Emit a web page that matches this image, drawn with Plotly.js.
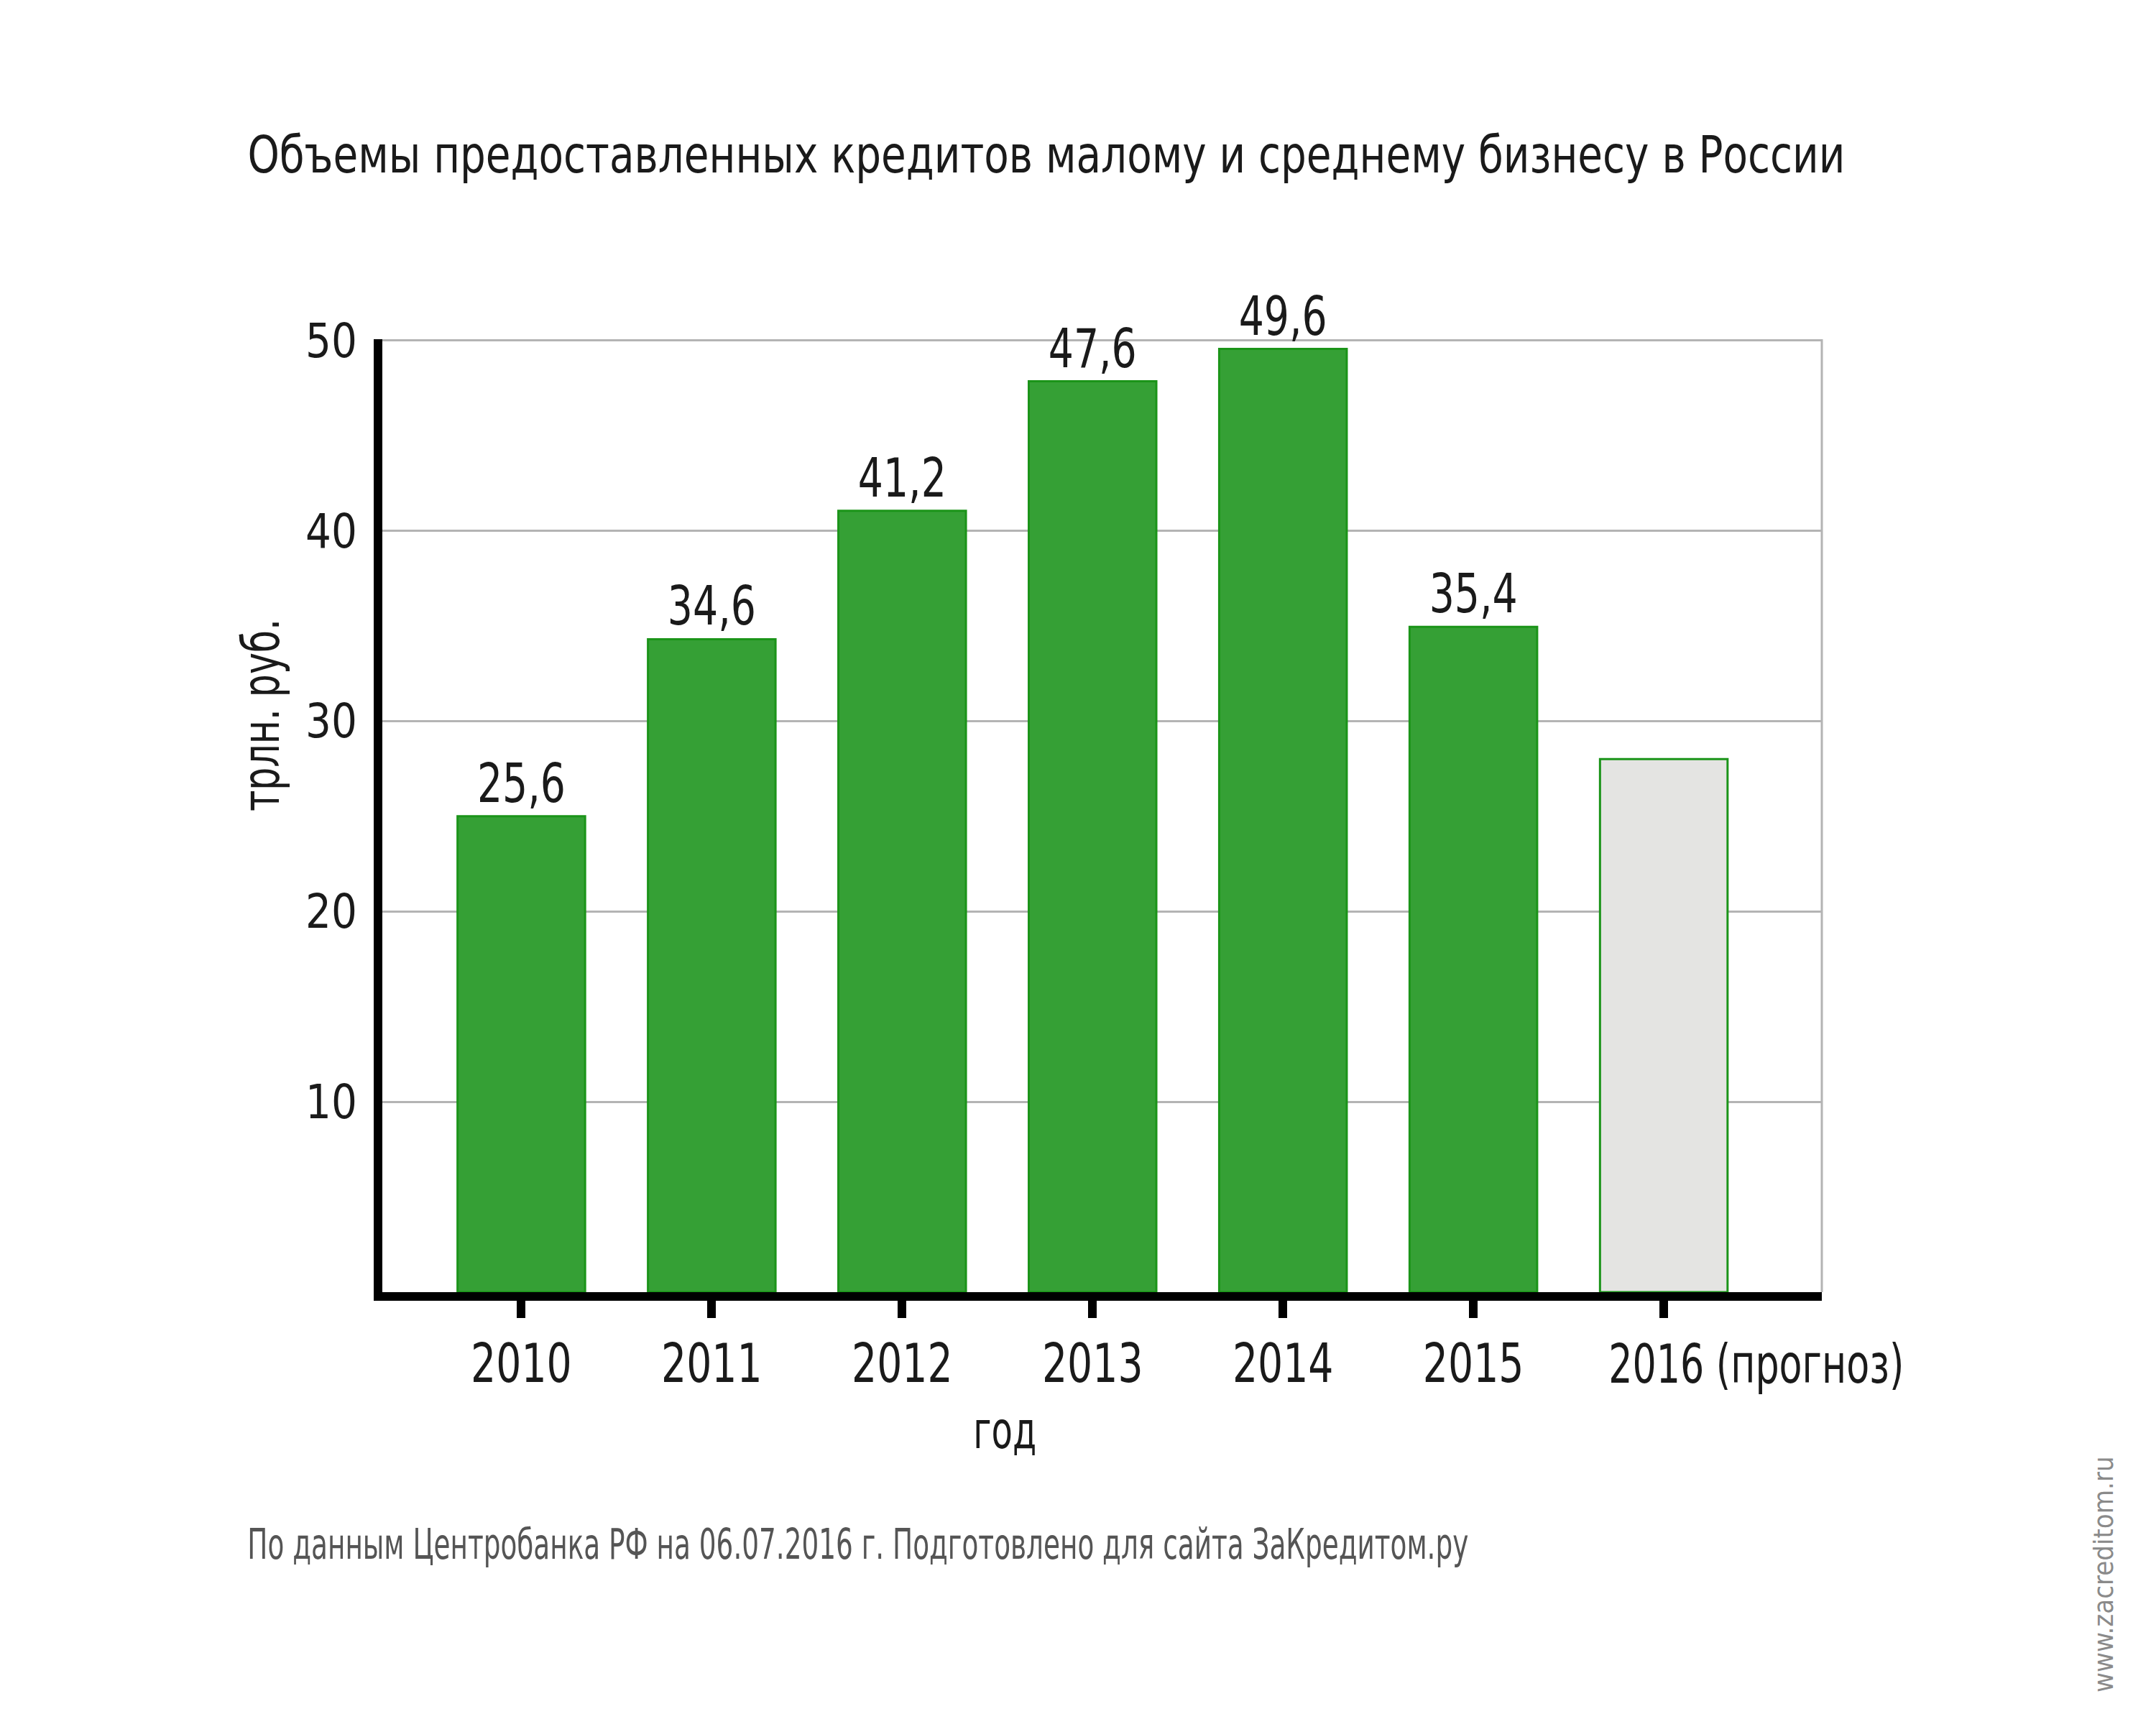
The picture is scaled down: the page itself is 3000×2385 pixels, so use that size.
<!DOCTYPE html>
<html>
<head>
<meta charset="utf-8">
<script src="https://cdn.plot.ly/plotly-3.0.1.min.js"></script>
<style>html,body{margin:0;padding:0;background:#fff}#chart{width:3000px;height:2385px}</style>
</head>
<body>
<div id="chart"></div>
<script>
// Data
const categories = ["2010", "2011", "2012", "2013", "2014", "2015", "2016 (прогноз)"];
const tickLabels = ["2010", "2011", "2012", "2013", "2014", "2015", ""];
const barHeights = [25.0, 34.3, 41.05, 47.85, 49.55, 34.95, 28.0];
const valueLabels = ["25,6", "34,6", "41,2", "47,6", "49,6", "35,4", ""];
const yTicks = [10, 20, 30, 40, 50];

const FONT = "'DejaVu Sans Condensed', 'DejaVu Sans', sans-serif";
const fillColors = categories.map((c, i) => i === categories.length - 1 ? "#e4e4e2" : "#35a035");

const trace = {
  type: "bar",
  x: categories,
  y: barHeights,
  text: valueLabels,
  textposition: "outside",
  cliponaxis: false,
  textfont: {family: FONT, size: 74, color: "#1a1a1a"},
  marker: {color: fillColors, line: {color: "#1b9419", width: 3}},
  width: 0.67,
  hoverinfo: "skip"
};

const layout = {
  width: 3000, height: 2385,
  paper_bgcolor: "#ffffff", plot_bgcolor: "#ffffff",
  margin: {l: 532, r: 465, t: 472, b: 587, pad: 0},
  showlegend: false,
  font: {family: FONT, color: "#1a1a1a"},
  title: {
    text: "Объемы предоставленных кредитов малому и среднему бизнесу в России",
    font: {family: FONT, size: 72, color: "#1a1a1a"},
    xref: "container", yref: "container",
    x: 0.4853, y: 0.910, xanchor: "center", yanchor: "middle"
  },
  xaxis: {
    type: "category",
    range: [-0.73, 6.83],
    tickvals: categories,
    ticktext: tickLabels,
    showline: true, linecolor: "#000000", linewidth: 12,
    ticks: "outside", ticklen: 24, tickwidth: 12, tickcolor: "#000000",
    tickfont: {family: FONT, size: 74, color: "#1a1a1a"},
    showgrid: false, zeroline: false, fixedrange: true
  },
  yaxis: {
    range: [0, 50.06],
    tickvals: yTicks,
    ticktext: yTicks.map(String),
    showline: true, linecolor: "#000000", linewidth: 12,
    ticks: "", ticklabelstandoff: 10,
    tickfont: {family: FONT, size: 66, color: "#1a1a1a"},
    showgrid: true, gridcolor: "#b4b4b4", gridwidth: 3,
    zeroline: false, fixedrange: true
  },
  shapes: [
    {type: "line", xref: "paper", yref: "paper", x0: 1, x1: 1, y0: 0, y1: 1,
     line: {color: "#b4b4b4", width: 3}, layer: "below"}
  ],
  annotations: [
    {text: "2016 (прогноз)", xref: "paper", yref: "paper", x: 0.9546, y: -0.0755,
     xanchor: "center", yanchor: "middle", showarrow: false,
     font: {family: FONT, size: 74, color: "#1a1a1a"}},
    {text: "год", xref: "paper", yref: "paper", x: 0.4323, y: -0.1448,
     xanchor: "center", yanchor: "middle", showarrow: false,
     font: {family: FONT, size: 72, color: "#1a1a1a"}},
    {text: "трлн. руб.", xref: "paper", yref: "paper", x: -0.0844, y: 0.6056,
     xanchor: "center", yanchor: "middle", textangle: -90, showarrow: false,
     font: {family: FONT, size: 72, color: "#1a1a1a"}},
    {text: "По данным Центробанка РФ на 06.07.2016 г. Подготовлено для сайта ЗаКредитом.ру",
     xref: "paper", yref: "paper", x: 0.3303, y: -0.2647,
     xanchor: "center", yanchor: "middle", showarrow: false,
     font: {family: FONT, size: 58, color: "#555555"}},
    {text: "www.zacreditom.ru", xref: "paper", yref: "paper", x: 1.1957, y: -0.2956,
     xanchor: "center", yanchor: "middle", textangle: -90, showarrow: false,
     font: {family: FONT, size: 38, color: "#8a8a8a"}}
  ]
};

// Condense text horizontally (the reference uses a narrow typeface)
function condense(el, opts) {
  if (!el) return;
  const t = el.tagName.toLowerCase() === "text" ? el : el.querySelector("text");
  if (!t || !t.textContent) return;
  const w = t.getComputedTextLength();
  const target = opts.width ? opts.width : w * opts.factor;
  t.setAttribute("textLength", target);
  t.setAttribute("lengthAdjust", "spacingAndGlyphs");
}

Plotly.newPlot("chart", [trace], layout, {staticPlot: true, displayModeBar: false}).then(gd => {
  condense(gd.querySelector(".gtitle"), {width: 2223});
  gd.querySelectorAll(".xtick text").forEach(el => condense(el, {factor: 0.83}));
  gd.querySelectorAll(".ytick text").forEach(el => condense(el, {factor: 0.95}));
  gd.querySelectorAll(".bartext").forEach(el => condense(el, {factor: 0.83}));
  const ann = gd.querySelectorAll(".annotation");
  const annWidths = [411, 88, 268, 1699, null];
  ann.forEach((a, i) => {
    if (annWidths[i]) condense(a.querySelector(".annotation-text"), {width: annWidths[i]});
  });
});
</script>
</body>
</html>
